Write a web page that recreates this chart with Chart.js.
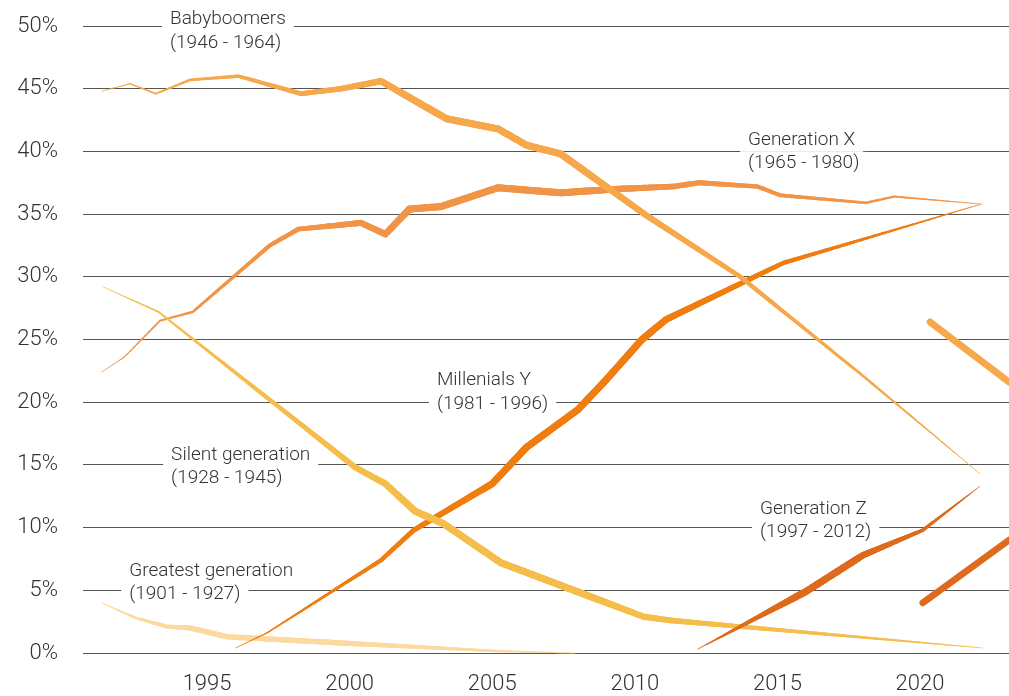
<!DOCTYPE html>
<html>
<head>
<meta charset="utf-8">
<script src="https://cdn.jsdelivr.net/npm/chart.js@4.4.1/dist/chart.umd.min.js"></script>
<style>
  html, body { margin: 0; padding: 0; background: #fff; }
  #wrap { width: 1009px; height: 696px; position: relative; }
</style>
</head>
<body>
<div id="wrap"><canvas id="chart"></canvas></div>
<script>
// ---- data (share of population, %) ----
const xTickYears = [1995, 2000, 2005, 2010, 2015, 2020];

const greatestYears = [1991.3, 1992.5, 1993.6, 1994.4, 1995.7, 1999.7, 2005.2, 2007.9];
const greatestShare = [4.0, 2.8, 2.1, 2.0, 1.3, 0.8, 0.15, 0.0];

const silentYears = [1991.35, 1993.3, 2000.2, 2001.25, 2002.3, 2003.3, 2005.3, 2010.3, 2011.25, 2022.2];
const silentShare = [29.2, 27.2, 14.8, 13.5, 11.3, 10.3, 7.2, 2.9, 2.6, 0.4];

const boomerYears = [1991.3, 1992.3, 1993.2, 1994.4, 1996.1, 1998.3, 1999.7, 2001.1, 2003.4, 2005.2, 2006.2, 2007.4, 2010.4, 2013.7, 2018.0, 2022.1];
const boomerShare = [44.8, 45.4, 44.6, 45.7, 46.0, 44.6, 45.0, 45.6, 42.6, 41.8, 40.5, 39.8, 34.9, 30.0, 22.1, 14.3];

const genXYears = [1991.3, 1992.1, 1993.35, 1994.5, 1997.2, 1998.2, 2000.4, 2001.25, 2002.1, 2003.2, 2005.2, 2007.4, 2009.4, 2011.35, 2012.25, 2014.3, 2015.1, 2018.1, 2019.1, 2022.15];
const genXShare = [22.4, 23.6, 26.5, 27.2, 32.5, 33.8, 34.3, 33.4, 35.4, 35.6, 37.1, 36.7, 37.0, 37.2, 37.5, 37.2, 36.5, 35.9, 36.4, 35.8];

const millennialYears = [1996.0, 1997.1, 2001.1, 2002.25, 2005.0, 2006.2, 2008.0, 2009.0, 2010.25, 2011.1, 2015.2, 2022.15];
const millennialShare = [0.4, 1.6, 7.4, 9.8, 13.5, 16.4, 19.4, 21.8, 25.0, 26.6, 31.1, 35.8];

const genZYears = [2012.2, 2016.0, 2018.0, 2020.1, 2022.1];
const genZShare = [0.3, 4.9, 7.8, 9.8, 13.3];

// second pass that enters at the right edge
const boomerNextYears = [2020.35, 2023.12];
const boomerNextShare = [26.4, 21.6];
const genZNextYears = [2020.1, 2023.12];
const genZNextShare = [4.0, 9.0];

// ---- labels ----
const labelNames = ['Babyboomers', 'Generation X', 'Millenials Y', 'Silent generation', 'Generation Z', 'Greatest generation'];
const labelRanges = ['(1946 - 1964)', '(1965 - 1980)', '(1981 - 1996)', '(1928 - 1945)', '(1997 - 2012)', '(1901 - 1927)'];
// anchor of first text line: [year, percent]
const labelAt = [[1993.7, 50.5], [2013.97, 40.9], [2003.06, 21.75], [1993.74, 15.8], [2014.39, 11.5], [1992.27, 6.55]];

const TEXT = '#333';
const FONT = 'Roboto';
const lineGap = 23.5;

const series = (xs, ys) => xs.map((x, i) => ({ x, y: ys[i] }));
const bell = { min: 0.6, peak: 6.4, up: 0.35, down: 0.45 };

function tapered(label, xs, ys, color, shape) {
  return {
    label, data: series(xs, ys),
    borderColor: 'rgba(0,0,0,0)', pointRadius: 0,
    taperColor: color, taper: shape || bell
  };
}
function solid(label, xs, ys, color) {
  return {
    label, data: series(xs, ys), borderColor: color, borderWidth: 6.8,
    borderCapStyle: 'round', pointRadius: 0
  };
}

// draws a line whose width swells in the middle and thins at both ends
const taperPlugin = {
  id: 'taper',
  beforeDatasetDraw(chart, args) {
    const ds = chart.data.datasets[args.index];
    if (!ds.taper) return;
    const ctx = chart.ctx;
    const pts = args.meta.data.map(p => ({ x: p.x, y: p.y }));
    const sh = ds.taper;
    const x0 = pts[0].x, span = pts[pts.length - 1].x - x0;
    const widthAt = px => {
      const t = (px - x0) / span;
      return sh.min + sh.peak * Math.max(0, Math.min(1, t / sh.up, (1 - t) / sh.down));
    };
    ctx.save();
    ctx.strokeStyle = ds.taperColor;
    ctx.lineCap = 'round';
    for (let i = 0; i < pts.length - 1; i++) {
      const a = pts[i], b = pts[i + 1];
      const n = Math.max(1, Math.ceil(Math.hypot(b.x - a.x, b.y - a.y) / 2));
      for (let k = 0; k < n; k++) {
        const xa = a.x + (b.x - a.x) * k / n, ya = a.y + (b.y - a.y) * k / n;
        const xb = a.x + (b.x - a.x) * (k + 1) / n, yb = a.y + (b.y - a.y) * (k + 1) / n;
        ctx.lineWidth = widthAt((xa + xb) / 2);
        ctx.beginPath(); ctx.moveTo(xa, ya); ctx.lineTo(xb, yb); ctx.stroke();
      }
    }
    ctx.restore();
    return false;
  }
};

const labelPlugin = {
  id: 'genLabels',
  beforeDatasetsDraw(chart) {
    const { ctx, scales: { x, y } } = chart;
    ctx.save();
    ctx.font = `300 19px ${FONT}`;
    ctx.textBaseline = 'middle';
    const items = [];
    labelNames.forEach((name, i) => {
      const px = x.getPixelForValue(labelAt[i][0]);
      const py = y.getPixelForValue(labelAt[i][1]);
      [name, labelRanges[i]].forEach((txt, j) => items.push({ txt, px, cy: py + j * lineGap }));
    });
    ctx.fillStyle = '#fff';
    items.forEach(it => {
      const w = ctx.measureText(it.txt).width;
      ctx.fillRect(it.px - 8, it.cy - lineGap / 2, w + 16, lineGap);
    });
    ctx.fillStyle = TEXT;
    items.forEach(it => ctx.fillText(it.txt, it.px, it.cy));
    ctx.restore();
  }
};

new Chart(document.getElementById('chart'), {
  type: 'line',
  data: {
    datasets: [
      tapered('Generation Z', genZYears, genZShare, '#DE6B1D'),
      solid('Generation Z next', genZNextYears, genZNextShare, '#DE6B1D'),
      tapered('Babyboomers', boomerYears, boomerShare, '#F6A84B'),
      solid('Babyboomers next', boomerNextYears, boomerNextShare, '#F6A84B'),
      tapered('Silent generation', silentYears, silentShare, '#F5BD4B'),
      tapered('Generation X', genXYears, genXShare, '#F29447'),
      tapered('Millenials Y', millennialYears, millennialShare, '#EF7D10'),
      tapered('Greatest generation', greatestYears, greatestShare, '#FCD9A0', { min: 0.8, peak: 4.6, up: 0.2, down: 0.5 })
    ]
  },
  options: {
    responsive: true, maintainAspectRatio: false, animation: false,
    layout: { padding: { top: 26, right: 0, left: 0, bottom: 0 } },
    plugins: { legend: { display: false }, tooltip: { enabled: false } },
    scales: {
      x: {
        type: 'linear', min: 1990.65, max: 2023.12,
        grid: { display: false, drawTicks: false }, border: { display: false },
        afterBuildTicks: s => { s.ticks = xTickYears.map(v => ({ value: v })); },
        afterFit: s => { s.height = 43; s.paddingLeft = 0; s.paddingRight = 0; },
        ticks: { color: TEXT, padding: 18, maxRotation: 0, autoSkip: false, font: { family: FONT, size: 22, weight: '300' }, callback: v => String(v) }
      },
      y: {
        min: 0, max: 50,
        grid: { color: '#555', lineWidth: 1, drawTicks: false }, border: { display: false },
        afterFit: s => { s.width = 83; s.paddingTop = 0; s.paddingBottom = 0; },
        ticks: { stepSize: 5, color: TEXT, padding: 25, font: { family: FONT, size: 22, weight: '300' }, callback: v => v + '%' }
      }
    }
  },
  plugins: [labelPlugin, taperPlugin]
});
</script>
</body>
</html>
